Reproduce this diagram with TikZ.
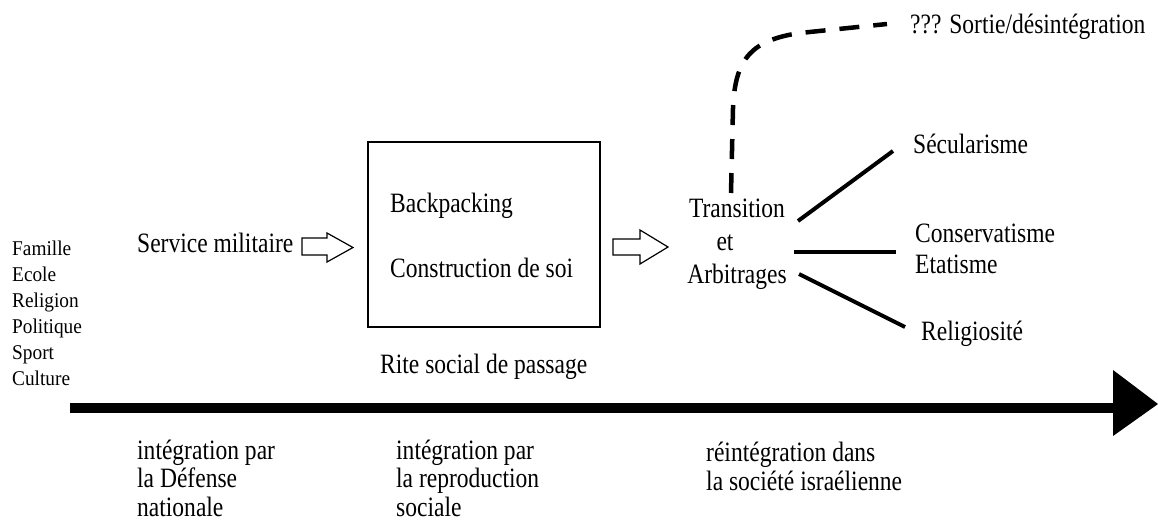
\documentclass[tikz,border=0pt]{standalone}
\usepackage{fontspec}
\setmainfont{Liberation Serif}
\newfontfamily\mainf[FakeStretch=0.84]{Liberation Serif}
\newfontfamily\leftf[FakeStretch=0.92]{Liberation Serif}
\usetikzlibrary{calc}
\tikzset{
  lbl/.style={inner sep=0pt, anchor=base west, font=\mainf\fontsize{28}{33}\selectfont},
  lbltight/.style={lbl, align=left, font=\mainf\fontsize{28}{28.5}\selectfont},
  leftlbl/.style={inner sep=0pt, anchor=base west, align=left, font=\leftf\fontsize{21}{26}\selectfont},
  hollow/.style={draw=black, line width=1.2pt, fill=white, line join=miter},
  branch/.style={line width=4pt},
  dashcurve/.style={line width=4.5pt, dash pattern=on 20pt off 14pt},
  axis/.style={line width=10pt},
}
\begin{document}
\begin{tikzpicture}[x=1pt,y=-1pt]
\useasboundingbox (0,0) rectangle (1158,522);

% left column (anchor base = baseline of last line)
\node[leftlbl] (famille) at (12,385) {Famille\\Ecole\\Religion\\Politique\\Sport\\Culture};

% service militaire
\node[lbl] (service) at (137,252) {Service militaire};

% hollow arrow 1
\draw[hollow] (302,238) -- (327,238) -- (327,233) -- (353,247.5) -- (327,262) -- (327,255) -- (302,255) -- cycle;

% box
\node[draw=black, line width=1.4pt, minimum width=232pt, minimum height=185pt, inner sep=0pt] (box) at (484,234.5) {};
\node[lbl] (back) at (390,212) {Backpacking};
\node[lbl] (constr) at (390,277) {Construction de soi};
\node[lbl] (rite) at (380,373) {Rite social de passage};

% hollow arrow 2
\draw[hollow] (613,239) -- (640,239) -- (640,230) -- (668,247) -- (640,264) -- (640,255) -- (613,255) -- cycle;

% transition
\node[inner sep=0pt, anchor=base, align=center, font=\mainf\fontsize{28}{33}\selectfont] (trans) at (737,283) {Transition\\\hspace*{-24pt}et\\Arbitrages};

% outcomes
\node[lbl] (sortie) at (910,33) {??? Sortie/désintégration};
\node[lbl] (secul) at (913,153) {Sécularisme};
\node[lbl, align=left, font=\mainf\fontsize{28}{31}\selectfont] (conserv) at (915,273) {Conservatisme\\Etatisme};
\node[lbl] (relig) at (921,340) {Religiosité};

% connectors
\coordinate (d0) at (731,193);
\coordinate (d1) at (887,24);
\draw[dashcurve] (d0) -- (733,108) .. controls (735,58) and (752,40) .. (800,33) -- (d1);

\coordinate (b1s) at (798,221);
\coordinate (b1e) at (893,151);
\coordinate (b2s) at (794,252);
\coordinate (b2e) at (896,252);
\coordinate (b3s) at (799,274);
\coordinate (b3e) at (905,327);
\draw[branch] (b1s) -- (b1e);
\draw[branch] (b2s) -- (b2e);
\draw[branch] (b3s) -- (b3e);

% main axis
\coordinate (axs) at (70,408);
\coordinate (axe) at (1114,408);
\draw[axis] (axs) -- (axe);
\fill (1113,370) -- (1158,404) -- (1113,436) -- cycle;

% bottom labels (anchor base = baseline of last line)
\node[lbltight] (int1) at (137,516) {intégration par\\la Défense\\nationale};
\node[lbltight] (int2) at (396,516) {intégration par\\la reproduction\\sociale};
\node[lbltight] (int3) at (706,490) {réintégration dans\\la société israélienne};
\end{tikzpicture}
\end{document}
